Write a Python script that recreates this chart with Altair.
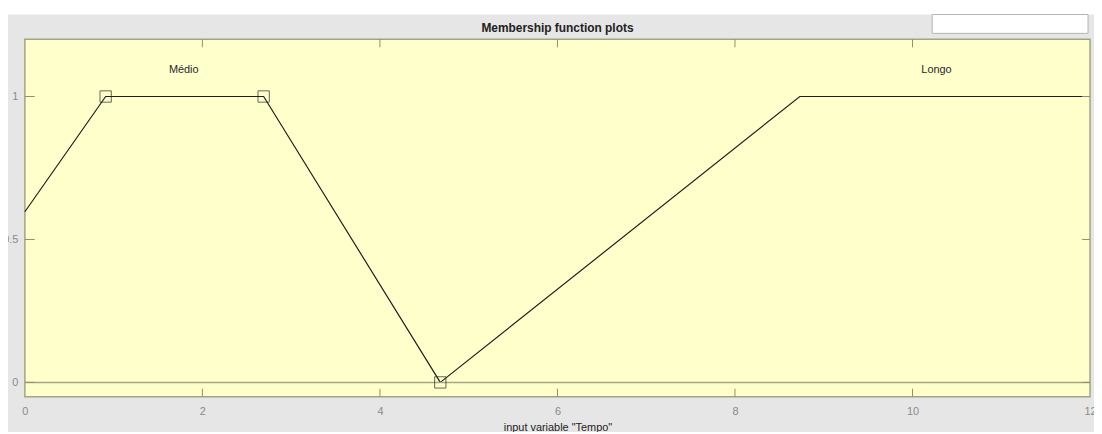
import altair as alt
import pandas as pd

# ---- data ----
title_text = ["Membership function plots"]
medio_x = [0.0, 0.91, 2.69, 4.68]
medio_y = [0.597, 1.0, 1.0, 0.0]
longo_x = [4.68, 8.73, 12.0]
longo_y = [0.0, 1.0, 1.0]
marker_x = [0.91, 2.69, 4.68]
marker_y = [1.0, 1.0, 0.0]
label_names = ["Médio", "Longo"]
label_x = [1.79, 10.27]
label_y = [1.094, 1.094]
x_ticks = [0, 2, 4, 6, 8, 10, 12]
x_inner_ticks = [2, 4, 6, 8, 10]
y_ticks = [0, 0.5, 1]

FONT = "Liberation Sans"
W, H = 1073, 360

lines_df = pd.DataFrame(
    {"x": medio_x + longo_x,
     "y": medio_y + longo_y,
     "mf": ["Médio"] * len(medio_x) + ["Longo"] * len(longo_x)}
)
markers_df = pd.DataFrame({"x": marker_x, "y": marker_y})
labels_df = pd.DataFrame({"x": label_x, "y": label_y, "t": label_names})
xt_df = pd.DataFrame({"x": x_inner_ticks})
yt_df = pd.DataFrame({"y": y_ticks})

xs = alt.Scale(domain=[0, 12], nice=False, zero=False)
ys = alt.Scale(domain=[-0.05, 1.2], nice=False, zero=False)

x_axis = alt.Axis(values=x_ticks, format="d", labelColor="#8a8a8a", labelFontSize=11,
                  labelFont=FONT, ticks=False, tickSize=0, domain=False, grid=False,
                  labelPadding=9, labelFlush=False, title='input variable "Tempo"',
                  titleFont=FONT, titleFontSize=11, titleFontWeight="normal",
                  titleColor="#222222", titlePadding=5)
y_axis = alt.Axis(values=y_ticks, format=".1~f", labelColor="#8a8a8a", labelFontSize=11,
                  labelFont=FONT, ticks=False, tickSize=0, domain=False, grid=False,
                  labelPadding=7, labelFlush=False, title=None)

lines = alt.Chart(lines_df).mark_line(color="#1e1e1e", strokeWidth=1.2).encode(
    x=alt.X("x:Q", scale=xs, axis=x_axis),
    y=alt.Y("y:Q", scale=ys, axis=y_axis),
    detail="mf:N",
)

# decoration: white strip above and white box at top right
top_strip = alt.Chart(pd.DataFrame({"a": [0]})).mark_rect(color="white").encode(
    x=alt.value(-18), x2=alt.value(W + 5), y=alt.value(-32), y2=alt.value(-25))
box = alt.Chart(pd.DataFrame({"a": [0]})).mark_rect(
    fill="white", stroke="#b4b4b4", strokeWidth=1).encode(
    x=alt.value(914), x2=alt.value(1071), y=alt.value(-25), y2=alt.value(-6))

title = alt.Chart(pd.DataFrame({"t": title_text})).mark_text(
    font=FONT, fontSize=12, fontWeight="bold", color="#222222",
    align="center", baseline="alphabetic").encode(
    x=alt.value(W / 2), y=alt.value(-7), text="t:N")

zero_line = alt.Chart(pd.DataFrame({"y": [0]})).mark_rule(
    color="#a6a681", strokeWidth=1.5).encode(
    y=alt.Y("y:Q", scale=ys))

markers = alt.Chart(markers_df).mark_point(
    shape="square", size=130, filled=False, color="#262626", strokeWidth=1).encode(
    x=alt.X("x:Q", scale=xs),
    y=alt.Y("y:Q", scale=ys),
)

labels = alt.Chart(labels_df).mark_text(
    font=FONT, fontSize=11, color="#2a2a2a").encode(
    x=alt.X("x:Q", scale=xs),
    y=alt.Y("y:Q", scale=ys),
    text="t:N",
)

tick_col = "#8f8f70"
xt_bottom = alt.Chart(xt_df).mark_rule(color=tick_col).encode(
    x=alt.X("x:Q", scale=xs), y=alt.value(H), y2=alt.value(H - 8))
xt_top = alt.Chart(xt_df).mark_rule(color=tick_col).encode(
    x=alt.X("x:Q", scale=xs), y=alt.value(0), y2=alt.value(8))
yt_left = alt.Chart(yt_df).mark_rule(color=tick_col).encode(
    y=alt.Y("y:Q", scale=ys), x=alt.value(0), x2=alt.value(10))
yt_right = alt.Chart(yt_df).mark_rule(color=tick_col).encode(
    y=alt.Y("y:Q", scale=ys), x=alt.value(W - 8), x2=alt.value(W))

chart = alt.layer(
    lines, top_strip, box, title, zero_line, xt_bottom, xt_top, yt_left, yt_right,
    markers, labels,
).properties(
    width=W, height=H,
    autosize=alt.AutoSizeParams(type="none"),
    padding={"left": 17, "top": 30, "right": 4, "bottom": 34},
    background="#e6e6e6",
).configure_view(
    fill="#ffffcc", stroke="#a3a385", strokeWidth=1.5,
)

chart.save("out.html", embed_options={"renderer": "svg", "actions": False})
